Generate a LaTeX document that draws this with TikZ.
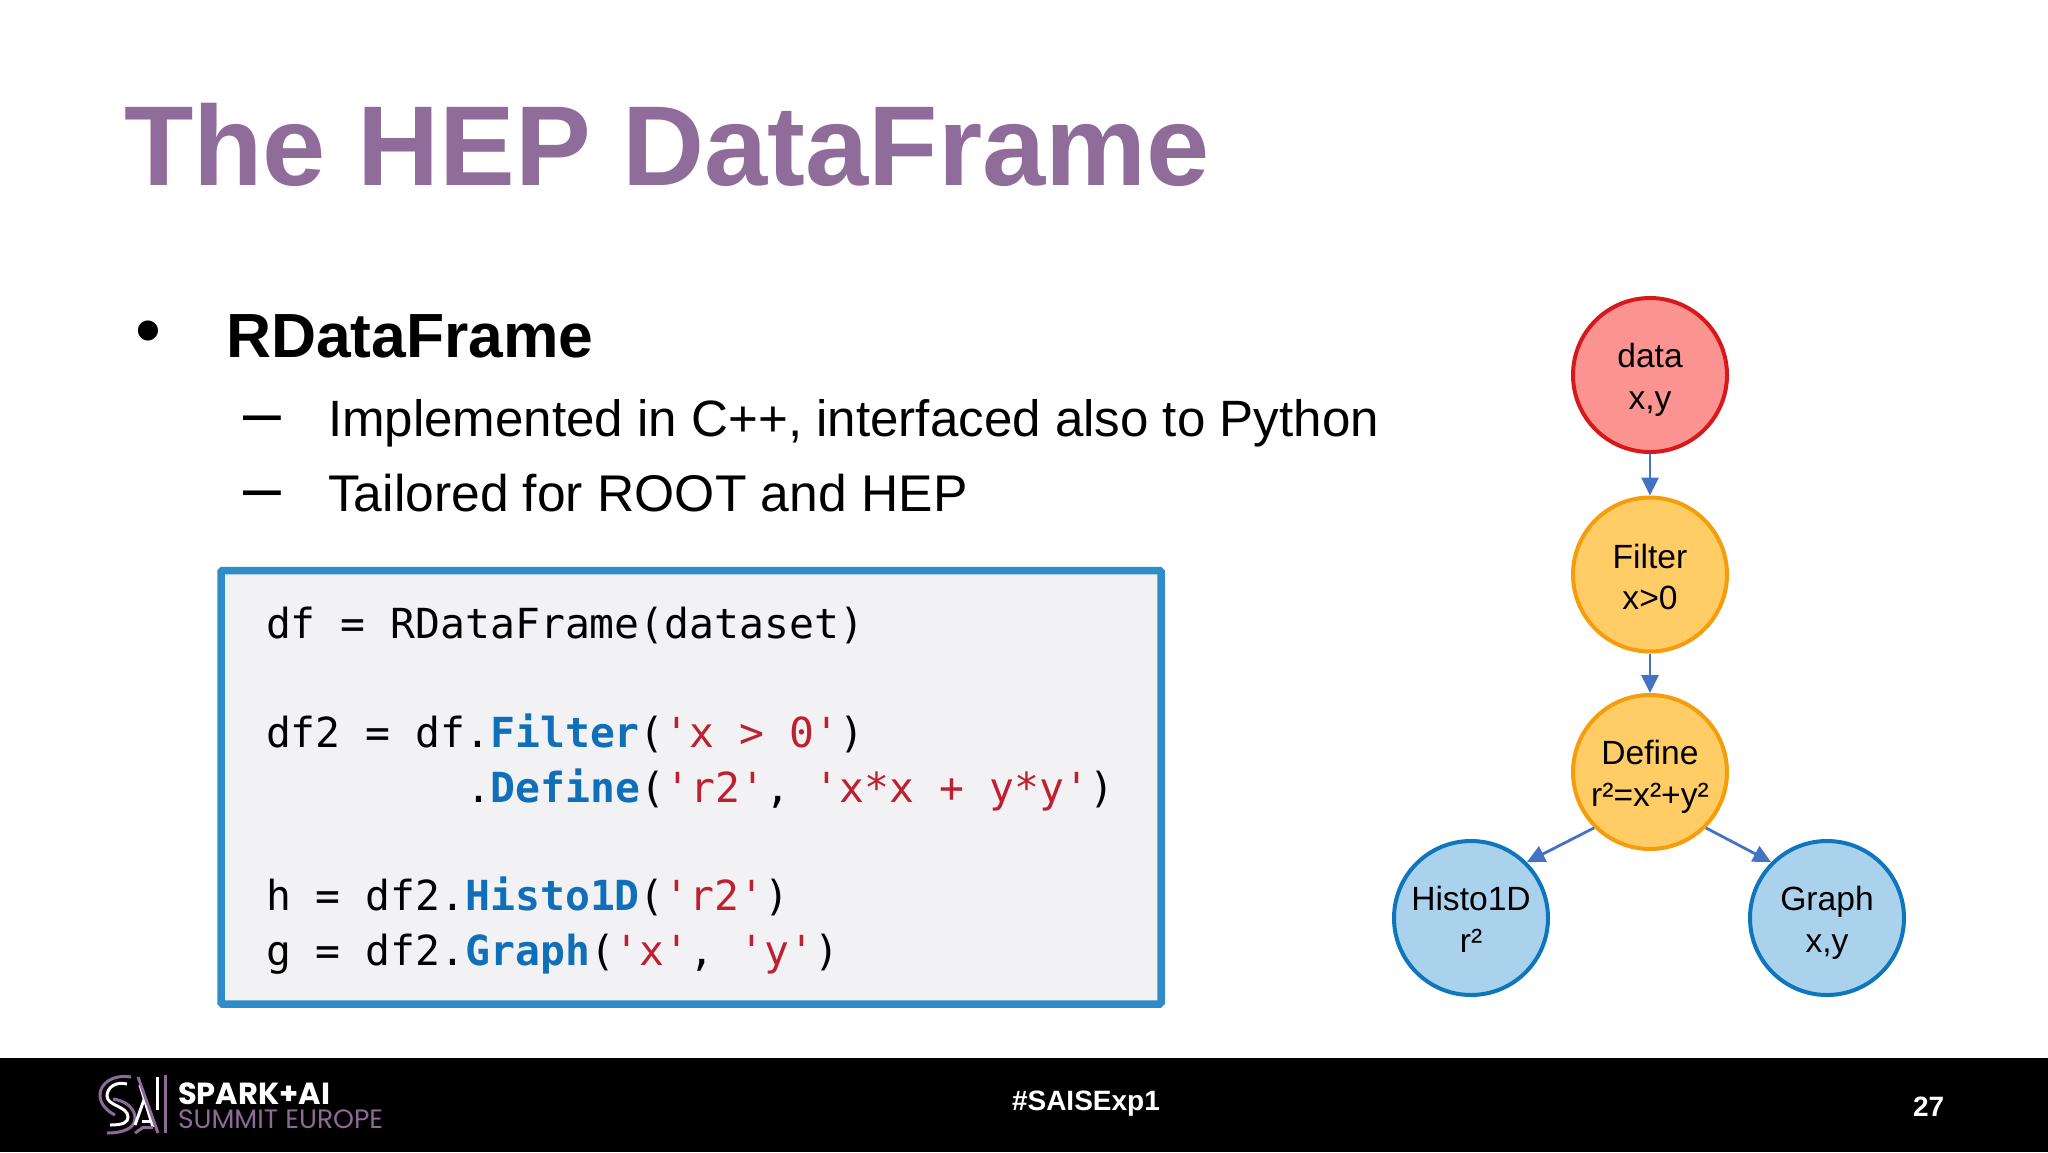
\documentclass[tikz,border=0pt]{standalone}
\usepackage{fontspec}
\setmainfont{Liberation Sans}
\newfontfamily\codefont{DejaVu Sans Mono}
\newfontfamily\logofont{Poppins}
\definecolor{titlepurple}{HTML}{8F6C9A}
\definecolor{logopurple}{HTML}{8E6A96}
\definecolor{boxedge}{HTML}{2E8DC8}
\definecolor{boxfill}{HTML}{F2F1F3}
\definecolor{codeblue}{HTML}{0F6FB8}
\definecolor{codered}{HTML}{BE2030}
\definecolor{arrowblue}{HTML}{4472C4}
\definecolor{redfill}{HTML}{FB9490}
\definecolor{rededge}{HTML}{D7191C}
\definecolor{orangefill}{HTML}{FFCC66}
\definecolor{orangeedge}{HTML}{F59D0B}
\definecolor{bluefill}{HTML}{ABD2EC}
\definecolor{blueedge}{HTML}{0E76BC}
\usetikzlibrary{arrows.meta}
\newcommand{\fs}[1]{\fontsize{#1}{#1}\selectfont}
\newcommand{\kw}[1]{\textcolor{codeblue}{\bfseries #1}}
\newcommand{\st}[1]{\textcolor{codered}{#1}}
\tikzset{
  txt/.style={inner sep=0pt,outer sep=0pt,anchor=base west,text=black},
  codeline/.style={txt,font=\codefont\fs{41.4}},
  bubble/.style={circle,minimum size=154pt,inner sep=0pt,line width=4pt,align=center,font=\fs{33.6},text=black},
  reddot/.style={bubble,draw=rededge,fill=redfill},
  orangedot/.style={bubble,draw=orangeedge,fill=orangefill},
  bluedot/.style={bubble,draw=blueedge,fill=bluefill},
  conn/.style={arrowblue,line width=2.8pt,-{Triangle[length=18pt,width=17pt]}},
  logoA/.style={logopurple,line width=3pt},
  logoW/.style={white,line width=3pt}
}
\begin{document}
\begin{tikzpicture}[x=1pt,y=-1pt]
\useasboundingbox (0,0) rectangle (2048,1152);
\fill[white] (0,0) rectangle (2048,1152);
\fill[black] (0,1057.5) rectangle (2048,1152);

\node[txt,text=titlepurple,font=\bfseries\fs{113.6}] (title) at (124,185) {The HEP DataFrame};

\node[txt,font=\fs{74}] (bullet) at (135,355) {•};
\node[txt,font=\bfseries\fs{62.4}] (head) at (226,357) {RDataFrame};
\node[txt,font=\fs{68}] (dasha) at (243,435) {–};
\node[txt,font=\fs{51.1}] (impl) at (328,436) {Implemented in C++, interfaced also to Python};
\node[txt,font=\fs{68}] (dashb) at (243,510) {–};
\node[txt,font=\fs{51.6}] (tail) at (328,511) {Tailored for ROOT and HEP};

\draw[boxedge,fill=boxfill,line width=7.5pt,rounded corners=1.5pt] (221,570.5) rectangle (1161,1004);
\node[codeline] (c1) at (266,638) {df = RDataFrame(dataset)};
\node[codeline] (c2) at (266,747.5) {df2 = df.\kw{Filter}(\st{'x > 0'})};
\node[codeline] (c3) at (466,802.5) {.\kw{Define}(\st{'r2'}, \st{'x*x + y*y'})};
\node[codeline] (c4) at (266,910.5) {h = df2.\kw{Histo1D}(\st{'r2'})};
\node[codeline] (c5) at (266,965.5) {g = df2.\kw{Graph}(\st{'x'}, \st{'y'})};

\node[reddot] (data) at (1650,375) {\rule{0pt}{34.5pt}data\\[8pt]x,y};
\node[orangedot] (filter) at (1650,574.5) {\rule{0pt}{29.7pt}Filter\\[8pt]x>0};
\node[orangedot] (define) at (1650,772) {\rule{0pt}{33.5pt}Define\\[8pt]r²=x²+y²};
\node[bluedot] (histo) at (1471,918) {\rule{0pt}{27pt}Histo1D\\[8pt]r²};
\node[bluedot] (graph) at (1827,918) {\rule{0pt}{34.5pt}Graph\\[8pt]x,y};
\draw[conn] (data) -- (filter);
\draw[conn] (filter) -- (define);
\draw[conn] (define.225) -- (histo.45);
\draw[conn] (define.315) -- (graph.135);

% logo
\draw[logoA] (131,1077) .. controls (112,1074) and (100,1084) .. (100,1095) .. controls (100,1104) and (107,1111) .. (115,1115);
\draw[logoW] (127,1084) .. controls (115,1081) and (107,1088) .. (107,1096) .. controls (107,1106) and (128,1106) .. (128,1117) .. controls (128,1122) and (124,1125) .. (110,1125);
\draw[logoA] (113,1099) .. controls (128,1101) and (135,1110) .. (135,1118) .. controls (135,1128) and (124,1133) .. (107,1133);
\draw[logoW] (135,1125) -- (145,1097);
\draw[logoW] (140,1085) -- (153,1127);
\draw[logoW] (142,1121) -- (151,1121);
\draw[logoA] (138,1077) -- (158,1133);
\draw[logoA] (135,1133) -- (143,1127.5) -- (153,1127.5);
\draw[logoW] (157,1077) -- (157,1110);
\draw[logoA] (165,1075) -- (165,1133);
\node[txt,text=white,font=\logofont\bfseries\fs{30.5},text depth=0pt] (spark) at (178,1104) {SPARK+AI};
\node[txt,text=logopurple,font=\logofont\fs{26.6},text height=19pt,text depth=0pt] (summit) at (178,1128) {SUMMIT EUROPE};

\node[txt,text=white,font=\bfseries\fs{28}] (tag) at (1012,1110) {\#SAISExp1};
\node[txt,text=white,font=\bfseries\fs{28}] (page) at (1913,1116) {27};
\end{tikzpicture}
\end{document}
